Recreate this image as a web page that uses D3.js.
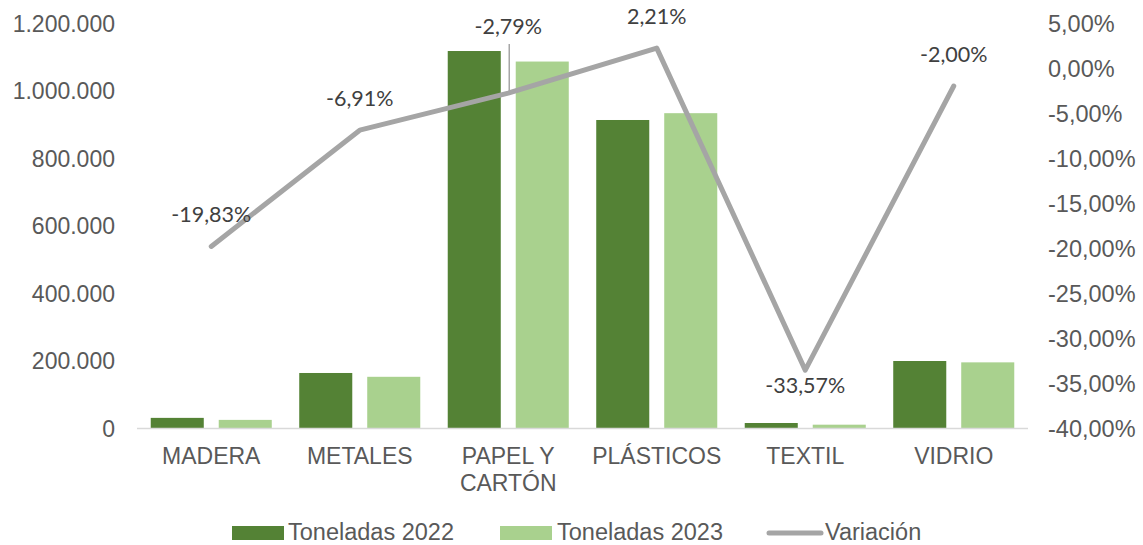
<!DOCTYPE html>
<html><head><meta charset="utf-8">
<script src="https://cdn.jsdelivr.net/npm/d3@7/dist/d3.min.js"></script>
<style>body{margin:0;background:#fff}</style>
</head><body>
<svg id="c" width="1143" height="545"></svg>
<script>
const categories = ["MADERA", "METALES", "PAPEL Y\nCARTÓN", "PLÁSTICOS", "TEXTIL", "VIDRIO"];
const toneladas2022 = [30000, 163000, 1117000, 912600, 14800, 198500];
const toneladas2023 = [24050, 151700, 1085800, 932800, 9830, 194500];
const variacion = [-19.83, -6.91, -2.79, 2.21, -33.57, -2.00];
const leftTicks = [0, 200000, 400000, 600000, 800000, 1000000, 1200000];
const rightTicks = [5, 0, -5, -10, -15, -20, -25, -30, -35, -40];
const seriesNames = ["Toneladas 2022", "Toneladas 2023", "Variación"];
const labelPlacement = ["above", "above", "leader", "above", "below", "above"];

const colors = {d22: "#548235", d23: "#A9D18E", line: "#A5A5A5"};
const loc = d3.formatLocale({decimal: ",", thousands: ".", grouping: [3], currency: ["", "€"], minus: "-"});
const fmtInt = loc.format(",.0f");
const fmtPct = v => loc.format(".2f")(v) + "%";

const svg = d3.select("#c");
const L = 137, R = 1028, T = 23, B = 428;
const x0 = d3.scaleBand().domain(categories).range([L, R]).paddingInner(0.185).paddingOuter(0.0925);
const x1 = d3.scaleBand().domain([0, 1]).range([0, x0.bandwidth()]).paddingInner(0.22);
const yL = d3.scaleLinear().domain([0, 1200000]).range([B, T]);
const yR = d3.scaleLinear().domain([-40, 5]).range([B, T]);
const cx = c => x0(c) + x0.bandwidth() / 2;

const tickFont = "Liberation Sans, Arial, sans-serif";
const tickColor = "#595959";

// left axis
const axL = d3.axisLeft(yL).tickValues(leftTicks).tickFormat(fmtInt).tickSize(0).tickPadding(0);
const gL = svg.append("g").attr("transform", `translate(115,0)`).call(axL);
gL.select(".domain").remove();
gL.selectAll("text").attr("font-family", tickFont).attr("font-size", 23).attr("fill", tickColor).attr("dy", "0.35em");

// right axis
const axR = d3.axisRight(yR).tickValues(rightTicks).tickFormat(fmtPct).tickSize(0).tickPadding(0);
const gR = svg.append("g").attr("transform", `translate(1048,0)`).call(axR);
gR.select(".domain").remove();
gR.selectAll("text").attr("font-family", tickFont).attr("font-size", 23.5).attr("fill", tickColor).attr("dy", "0.35em");

// bars
const bars = svg.append("g");
categories.forEach((c, i) => {
  [toneladas2022[i], toneladas2023[i]].forEach((v, j) => {
    bars.append("rect")
      .attr("x", x0(c) + x1(j)).attr("width", x1.bandwidth())
      .attr("y", yL(v)).attr("height", yL(0) - yL(v))
      .attr("fill", j === 0 ? colors.d22 : colors.d23);
  });
});

// baseline
svg.append("line").attr("x1", L).attr("x2", R).attr("y1", yL(0) + 0.5).attr("y2", yL(0) + 0.5)
  .attr("stroke", "#D9D9D9").attr("stroke-width", 1.3);

// category labels
const catG = svg.append("g");
categories.forEach(c => {
  const t = catG.append("text").attr("x", cx(c)).attr("y", 464).attr("text-anchor", "middle")
    .attr("font-family", tickFont).attr("font-size", 23).attr("fill", tickColor);
  c.split("\n").forEach((ln, k) => t.append("tspan").attr("x", cx(c)).attr("dy", k === 0 ? 0 : 27).text(ln));
});

// leader line for label
categories.forEach((c, i) => {
  if (labelPlacement[i] === "leader") {
    svg.append("line").attr("x1", cx(c) + 1).attr("x2", cx(c) + 1)
      .attr("y1", 44).attr("y2", yR(variacion[i]))
      .attr("stroke", "#A6A6A6").attr("stroke-width", 1.5);
  }
});

// line
const line = d3.line().x((d, i) => cx(categories[i])).y(d => yR(d));
svg.append("path").datum(variacion).attr("d", line).attr("fill", "none")
  .attr("stroke", colors.line).attr("stroke-width", 5)
  .attr("stroke-linecap", "round").attr("stroke-linejoin", "round");

// data labels
const lblFont = "Lato, 'Open Sans', sans-serif";
categories.forEach((c, i) => {
  const py = yR(variacion[i]);
  let y;
  if (labelPlacement[i] === "above") y = py - 24;
  else if (labelPlacement[i] === "below") y = py + 23;
  else y = 34;
  svg.append("text").attr("x", cx(c)).attr("y", y).attr("text-anchor", "middle")
    .attr("font-family", lblFont).attr("font-size", 21.5).attr("fill", "#404040")
    .text(fmtPct(variacion[i]));
});

// legend
const lg = svg.append("g");
lg.append("rect").attr("x", 232).attr("y", 526).attr("width", 52).attr("height", 14).attr("fill", colors.d22);
lg.append("text").attr("x", 288).attr("y", 539.5).text(seriesNames[0]);
lg.append("rect").attr("x", 500).attr("y", 526).attr("width", 52).attr("height", 14).attr("fill", colors.d23);
lg.append("text").attr("x", 557).attr("y", 539.5).text(seriesNames[1]);
lg.append("line").attr("x1", 769).attr("x2", 821).attr("y1", 533).attr("y2", 533)
  .attr("stroke", colors.line).attr("stroke-width", 5).attr("stroke-linecap", "round");
lg.append("text").attr("x", 825).attr("y", 539.5).text(seriesNames[2]);
lg.selectAll("text").attr("font-family", tickFont).attr("font-size", 23.5).attr("fill", tickColor);
</script>
</body></html>
